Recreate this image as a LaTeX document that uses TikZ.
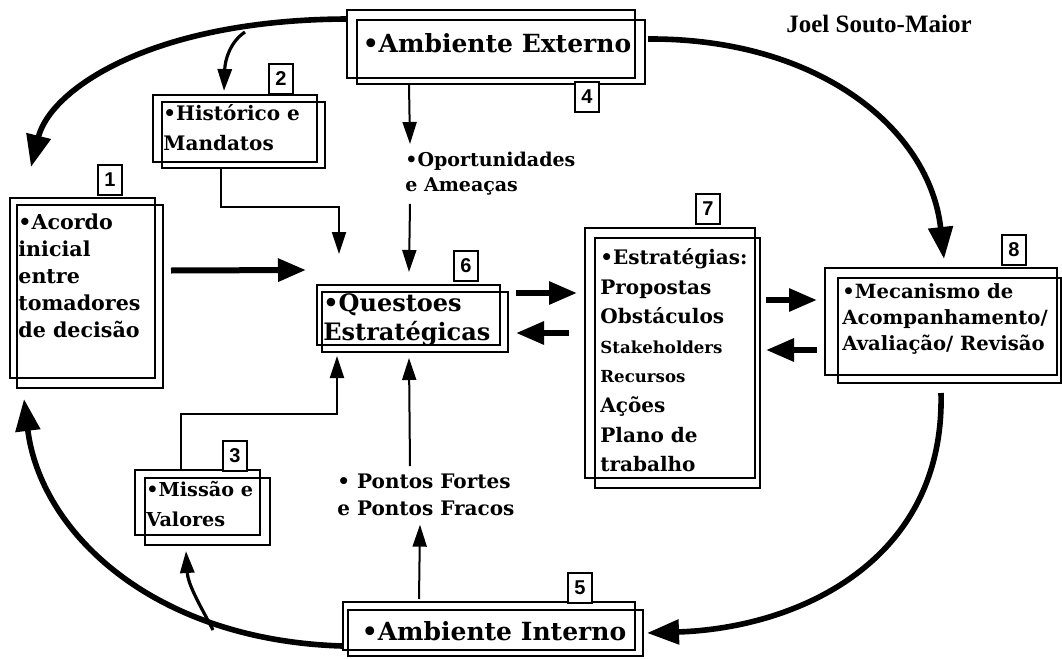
\documentclass[tikz,border=0pt]{standalone}
\usepackage{fontspec}
\setmainfont{DejaVu Serif}
\newfontfamily\numfont{Liberation Sans}
\newfontfamily\authfont{Liberation Serif}
\usetikzlibrary{arrows.meta,fit,calc}
\begin{document}
\begin{tikzpicture}[x=0.5pt,y=-0.5pt,
  frame/.style={draw, line width=1pt, inner sep=0pt},
  numbox/.style={draw, line width=1pt, fill=white, inner sep=0pt,
    minimum width=12pt, minimum height=15pt, font=\numfont\bfseries\fontsize{10}{12}\selectfont},
  bigarrow/.style={line width=2.8pt, -{Triangle[length=16pt,width=12pt]}},
  fatarrow/.style={line width=3pt, -{Triangle[length=14pt,width=11pt]}},
  thinarrow/.style={line width=1pt, -{Triangle[length=11pt,width=7pt]}},
  txt/.style={inner sep=0pt, align=left, anchor=north west, font=\bfseries}
]
\useasboundingbox (0,0) rectangle (1062,659);

% ---- frames ----
\node[frame, fit={(347,10) (635,78)}] (ext) {};
\node[frame, fit={(357,20) (645,84)}] (ext2) {};
\node[frame, fit={(153,95) (317,162)}] (hist) {};
\node[frame, fit={(162,102) (325,168)}] (hist2) {};
\node[frame, fit={(10,198) (155,378)}] (ac) {};
\node[frame, fit={(17,205) (163,388)}] (ac2) {};
\node[frame, fit={(317,285) (500,345)}] (q) {};
\node[frame, fit={(322,292) (508,352)}] (q2) {};
\node[frame, fit={(585,228) (755,478)}] (str) {};
\node[frame, fit={(595,238) (760,488)}] (str2) {};
\node[frame, fit={(825,268) (1057,375)}] (mec) {};
\node[frame, fit={(838,278) (1061,383)}] (mec2) {};
\node[frame, fit={(135,470) (260,535)}] (mi) {};
\node[frame, fit={(145,478) (270,545)}] (mi2) {};
\node[frame, fit={(343,602) (635,650)}] (int) {};
\node[frame, fit={(348,610) (643,656)}] (int2) {};

% ---- number boxes ----
\node[numbox] (n1) at (110,180) {1};
\node[numbox] (n2) at (281,79) {2};
\node[numbox] (n3) at (235,456) {3};
\node[numbox] (n4) at (587,97) {4};
\node[numbox] (n5) at (580,588) {5};
\node[numbox] (n6) at (466,266) {6};
\node[numbox] (n7) at (708,209) {7};
\node[numbox] (n8) at (1014,250) {8};

% ---- texts ----
\node[inner sep=0pt, font=\bfseries\fontsize{12.5}{15}\selectfont] (extt) at (497,43) {\textbullet Ambiente Externo};
\node[inner sep=0pt, font=\bfseries\fontsize{12.5}{15}\selectfont] (intt) at (494,631) {\textbullet Ambiente Interno};
\node[txt, font=\bfseries\fontsize{10}{15}\selectfont] (histt) at (163,104) {\textbullet Histórico e\\Mandatos};
\node[txt, font=\bfseries\fontsize{10.3}{13.5}\selectfont] (act) at (18,213) {\textbullet Acordo\\inicial\\entre\\tomadores\\de decisão};
\node[txt, font=\bfseries\fontsize{12}{14.5}\selectfont] (qt) at (323,293) {\textbullet Questoes\\Estratégicas};
\node[txt, font=\bfseries\fontsize{10}{14.8}\selectfont] (strt) at (600,248) {\textbullet Estratégias:\\Propostas\\Obstáculos\\{\fontsize{8.3}{14.8}\selectfont Stakeholders}\\{\fontsize{8.3}{14.8}\selectfont Recursos}\\Ações\\Plano de\\trabalho};
\node[txt, font=\bfseries\fontsize{9.8}{13}\selectfont] (mect) at (842,283) {\textbullet Mecanismo de\\Acompanhamento/\\Avaliação/ Revisão};
\node[txt, font=\bfseries\fontsize{9.6}{15}\selectfont] (mit) at (146,481) {\textbullet Missão e\\Valores};
\node[txt, font=\bfseries\fontsize{9.5}{12.5}\selectfont] (opp) at (405,152) {\textbullet Oportunidades\\e Ameaças};
\node[txt, font=\bfseries\fontsize{10}{13.5}\selectfont] (pf) at (337,474) {\textbullet{} Pontos Fortes\\e Pontos Fracos};
\node[inner sep=0pt, font=\authfont\bfseries\fontsize{12.5}{15}\selectfont] (auth) at (879,24) {Joel Souto-Maior};

% ---- big curved arrows ----
\coordinate (tlstart) at ($(ext.north west)+(0,10)$);
\coordinate (tlend) at ($(ac.north west)+(22,-30)$);
\draw[bigarrow] (tlstart) .. controls (150,20) and (50,90) .. (tlend);
\coordinate (hbranch) at (245,32);
\draw[thinarrow, line width=1.6pt] (hbranch) .. controls (230,42) and (225,60) .. ($(hist.north west)+(72,-3)$);

\draw[bigarrow] ($(ext2.north east)+(2,20)$) .. controls (820,38) and (930,130) .. ($(mec.north west)+(120,-8)$);
\draw[bigarrow] ($(mec2.south west)+(104,9)$) .. controls (945,560) and (800,628) .. ($(int2.east)+(3,0)$);
\coordinate (blstart) at ($(int.south west)+(0,-5)$);
\draw[bigarrow] (blstart) .. controls (150,640) and (40,530) .. ($(ac2.south west)+(8,10)$);
\coordinate (mbranch) at (213,630);
\draw[thinarrow, line width=1.6pt] (mbranch) .. controls (200,605) and (188,585) .. ($(mi2.south west)+(42,5)$);

% ---- straight fat arrows ----
\draw[fatarrow] ($(ac2.east)+(7,-26)$) -- ($(q.west)+(-10,-45)$);
\draw[fatarrow] ($(q2.east)+(7,-29)$) -- ($(str.west)+(-7,-60)$);
\draw[fatarrow] ($(str.west)+(-15,-20)$) -- ($(q2.east)+(7,11)$);
\draw[fatarrow] ($(str2.east)+(5,-63)$) -- ($(mec.west)+(-7,-21.5)$);
\draw[fatarrow] ($(mec.west)+(-7,28.5)$) -- ($(str2.east)+(5,-13)$);

% ---- thin connectors ----
\draw[thinarrow] ($(hist2.south west)+(60,0)$) |- ($(q.north west)+(23,-77)$) -- ($(q.north west)+(23,-30)$);
\draw[thinarrow] ($(ext2.south west)+(53,0)$) -- ($(opp.north west)+(5,-8)$);
\draw[thinarrow] ($(opp.south west)+(5,8)$) -- ($(q.north west)+(93,-12)$);
\draw[thinarrow] ($(mi.north west)+(47,0)$) |- ($(q2.south west)+(16,61)$) -- ($(q2.south west)+(16,3)$);
\draw[thinarrow] ($(pf.north west)+(73,-8)$) -- ($(q2.south west)+(88,5)$);
\draw[thinarrow] ($(int.north west)+(77,-2)$) -- ($(pf.south west)+(83,8)$);
\end{tikzpicture}
\end{document}
